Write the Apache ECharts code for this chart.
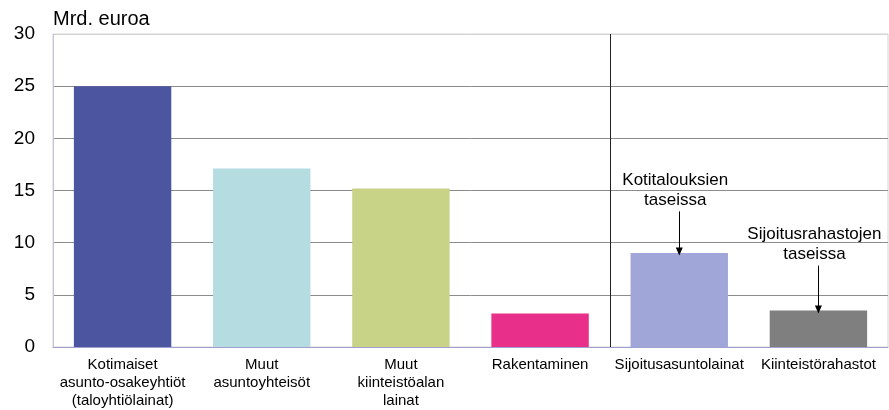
<!DOCTYPE html>
<html>
<head>
<meta charset="utf-8">
<script src="https://cdn.jsdelivr.net/npm/echarts@6/dist/echarts.min.js"></script>
<style>
html,body{margin:0;padding:0;background:#fff;}
#chart{width:889px;height:410px;}
</style>
</head>
<body>
<div id="chart"></div>
<script>
const categories = [
  'Kotimaiset\nasunto-osakeyhtiöt\n(taloyhtiölainat)',
  'Muut\nasuntoyhteisöt',
  'Muut\nkiinteistöalan\nlainat',
  'Rakentaminen',
  'Sijoitusasuntolainat',
  'Kiinteistörahastot'
];
const values = [25.0, 17.1, 15.2, 3.2, 9.0, 3.5];
const barColors = ['#4b55a0', '#b5dce1', '#c8d388', '#e8308a', '#a0a6d8', '#7f7f7f'];
const yMin = 0, yMax = 30, yStep = 5;
const unitLabel = 'Mrd. euroa';
const annotationTexts = ['Kotitalouksien\ntaseissa', 'Sijoitusrahastojen\ntaseissa'];
const annotationCats = [4, 5];
const arrowFrom = [13.0, 7.8];
const arrowTo = [9.15, 3.6];
const separatorIndex = 4;

const FONT = '"Liberation Sans", Arial, sans-serif';
const chart = echarts.init(document.getElementById('chart'), null, {renderer: 'canvas'});

const option = {
  animation: false,
  backgroundColor: '#fff',
  textStyle: {fontFamily: FONT},
  title: {
    text: unitLabel, left: 48, top: 4,
    textStyle: {fontFamily: FONT, fontSize: 20, fontWeight: 'normal', color: '#000'}
  },
  grid: {left: 53, right: 1, top: 34, bottom: 63, show: true, borderColor: '#d4d4d4', borderWidth: 1},
  xAxis: {
    type: 'category',
    data: categories,
    axisLine: {show: true, lineStyle: {color: '#a0a0d0', width: 1}},
    axisTick: {show: false},
    axisLabel: {color: '#000', fontFamily: FONT, fontSize: 15, lineHeight: 18, margin: 9, interval: 0},
    splitLine: {show: false}
  },
  yAxis: {
    type: 'value', min: yMin, max: yMax, interval: yStep,
    axisLine: {show: true, lineStyle: {color: '#c4c4d8'}},
    axisTick: {show: false},
    axisLabel: {color: '#000', fontFamily: FONT, fontSize: 19, margin: 18},
    splitLine: {show: true, lineStyle: {color: ['#8c8c8c', '#8c8c8c', '#8c8c8c', '#8c8c8c', '#8c8c8c', '#8c8c8c', '#d4d4d4'], width: 1}}
  },
  series: [{
    type: 'bar',
    barWidth: '70%',
    data: values.map((v, i) => ({value: v, itemStyle: {color: barColors[i]}})),
    markLine: {
      silent: true,
      symbol: ['none', 'triangle'],
      symbolSize: [7, 8],
      lineStyle: {color: '#000', width: 1, type: 'solid'},
      label: {show: false},
      data: annotationCats.map((c, i) => [{coord: [c, arrowFrom[i]]}, {coord: [c, arrowTo[i]]}])
    }
  }]
};
chart.setOption(option);

const graphics = annotationCats.map((c, i) => {
  const p = chart.convertToPixel({seriesIndex: 0}, [c, arrowFrom[i]]);
  return {
    type: 'text',
    x: p[0] - 4,
    y: p[1] - 1,
    style: {
      text: annotationTexts[i],
      fill: '#000',
      font: '17px ' + FONT,
      lineHeight: 20,
      align: 'center',
      verticalAlign: 'bottom'
    },
    silent: true,
    z: 10
  };
});
// separator between category groups
const pa = chart.convertToPixel({seriesIndex: 0}, [separatorIndex - 1, yMax]);
const pb = chart.convertToPixel({seriesIndex: 0}, [separatorIndex, yMin]);
const sx = Math.round((pa[0] + pb[0]) / 2) + 0.5;
graphics.push({
  type: 'line',
  shape: {x1: sx, y1: pa[1], x2: sx, y2: pb[1]},
  style: {stroke: '#222', lineWidth: 1},
  silent: true,
  z: 1
});
chart.setOption({graphic: graphics});
</script>
</body>
</html>
